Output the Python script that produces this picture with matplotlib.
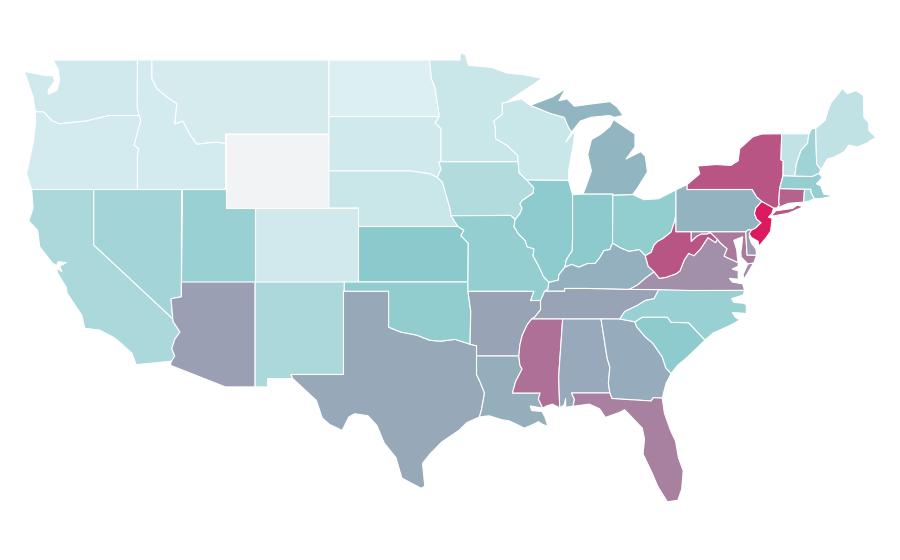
import matplotlib
matplotlib.use("Agg")
import matplotlib.pyplot as plt
from matplotlib.colors import LinearSegmentedColormap, Normalize
from matplotlib.patches import Polygon

# ---- values per state (read from the colour of each state; None = no data)
rate = dict(
    WA=7, OR=5, ID=5, MT=4, ND=0.5, SD=7, WY=None, NE=10, MN=10, WI=10, IA=21,
    CA=24, NV=28, UT=33, CO=6, NM=24, AZ=54.4, KS=40, OK=37, MO=35, IL=38, IN=39,
    OH=36, MI=46.5, KY=48.5, TN=53, AR=53, LA=49.5, MS=70.5, AL=51, GA=50, TX=51.3,
    FL=65, SC=38, NC=33, VA=60, WV=79.4, PA=47.5, NY=79.4, NJ=100, DE=55.8, MD=67,
    CT=74.7, RI=28, MA=35, VT=13, NH=30, ME=14,
)

# ---- colour scale
scale_stops = [0, 40, 54.4, 79.4, 100]
scale_colors = ["#ddeff2", "#8ac9cc", "#9b9fb4", "#b95685", "#dc1a60"]
no_data_color = "#f2f3f5"

# ---- shared state borders (lon, lat)
MN_WI = [(-92.02,46.71),(-92.29,46.66),(-92.29,46.07),(-92.87,45.7),(-92.76,45.3),(-92.75,44.75),(-92.0,44.4),(-91.25,43.85),(-91.22,43.5)]
IA_WI = [(-91.22,43.5),(-91.15,42.9),(-90.64,42.51)]
IA_IL = [(-90.64,42.51),(-90.16,42.1),(-90.2,41.8),(-90.95,41.4),(-91.1,41.2),(-90.95,41.0),(-91.1,40.7),(-91.42,40.38)]
MO_IL = [(-91.42,40.38),(-91.5,40.0),(-91.2,39.6),(-90.75,39.25),(-90.6,38.9),(-90.15,38.8),(-90.2,38.4),(-89.85,37.9),(-89.5,37.3),(-89.13,36.98)]
KY_MO = [(-89.13,36.98),(-89.2,36.6),(-89.42,36.5)]
TN_AR = [(-89.7,36.0),(-89.7,35.5),(-90.1,35.1),(-90.3,35.0)]
MS_AR = [(-90.3,35.0),(-90.6,34.7),(-90.95,34.1),(-91.1,33.6),(-91.17,33.0)]
MS_LA = [(-91.17,33.0),(-91.1,32.5),(-90.95,32.3),(-91.4,31.6),(-91.6,31.0),(-89.73,31.0),(-89.85,30.67),(-89.55,30.18)]
IL_KY = [(-89.13,36.98),(-88.5,37.1),(-88.45,37.4),(-88.05,37.8)]
IN_KY = [(-88.05,37.8),(-87.6,37.95),(-87.1,37.8),(-86.5,38.0),(-86.0,38.0),(-85.7,38.3),(-85.4,38.7),(-85.0,38.75),(-84.82,39.1)]
OH_KY = [(-84.82,39.1),(-84.3,38.85),(-83.7,38.65),(-83.0,38.75),(-82.6,38.42)]
OH_WV = [(-82.6,38.42),(-82.2,38.6),(-82.0,39.0),(-81.75,39.2),(-81.4,39.35),(-80.85,39.7),(-80.6,40.3),(-80.52,40.64)]
IL_IN = [(-88.05,37.8),(-87.95,38.2),(-87.55,38.7),(-87.53,39.35),(-87.53,41.72)]
KY_TN = [(-89.42,36.5),(-88.07,36.5),(-88.07,36.65),(-86.5,36.65),(-84.0,36.6),(-83.68,36.6)]
KY_VA = [(-83.68,36.6),(-83.1,36.85),(-82.6,37.2),(-82.0,37.55)]
KY_WV = [(-82.0,37.55),(-82.4,37.85),(-82.6,38.42)]
VA_WV = [(-82.0,37.55),(-81.65,37.2),(-81.2,37.25),(-80.5,37.45),(-80.25,37.6),(-79.95,38.2),(-79.65,38.55),(-79.3,38.42),(-78.87,38.77),(-78.35,39.4),(-77.83,39.13),(-77.72,39.32)]
WV_MD = [(-77.72,39.32),(-78.2,39.68),(-78.4,39.6),(-78.8,39.6),(-79.1,39.48),(-79.48,39.2),(-79.48,39.72)]
PA_NJ = [(-75.41,39.8),(-75.15,39.9),(-74.75,40.2),(-75.05,40.4),(-75.2,40.7),(-75.1,41.0),(-74.7,41.36)]
PA_DE = [(-75.79,39.72),(-75.6,39.84),(-75.41,39.8)]
POTOMAC = [(-76.3,38.05),(-77.0,38.3),(-77.25,38.4),(-77.05,38.8),(-77.5,39.1),(-77.72,39.32)]
NC_TN = [(-81.68,36.59),(-82.0,36.1),(-82.6,36.0),(-83.1,35.75),(-84.0,35.4),(-84.32,35.0)]
NC_SC = [(-83.3,34.85),(-82.8,35.1),(-81.1,35.1),(-80.85,34.82),(-79.67,34.8),(-78.55,33.86)]
GA_SC = [(-80.85,32.05),(-81.2,32.35),(-81.45,32.95),(-82.1,33.7),(-82.6,34.03),(-83.2,34.6),(-83.3,34.85)]
GA_FL = [(-81.45,30.72),(-82.05,30.75),(-82.2,30.57),(-84.86,30.7),(-85.0,31.0)]
GA_AL = [(-85.0,31.0),(-85.1,31.55),(-85.0,32.4),(-85.18,32.87),(-85.6,35.0)]
TX_OK = [(-100.0,34.56),(-99.2,34.3),(-98.1,34.13),(-97.2,33.85),(-96.5,33.8),(-95.5,33.9),(-94.48,33.64)]
TX_LA = [(-94.04,32.0),(-93.8,31.6),(-93.5,31.0),(-93.7,30.1),(-93.85,29.7)]
AZ_CA = [(-114.63,35.0),(-114.6,34.85),(-114.15,34.3),(-114.5,33.9),(-114.7,33.4),(-114.5,33.0),(-114.72,32.72)]
OR_WA = [(-116.92,46.0),(-118.98,46.0),(-119.3,45.93),(-120.5,45.7),(-121.2,45.65),(-122.3,45.55),(-122.8,45.7),(-123.4,46.2),(-123.95,46.2)]
ID_OR = [(-117.03,42.0),(-117.03,43.8),(-116.95,44.2),(-117.25,44.4),(-116.8,45.75),(-116.92,46.0)]
ID_MT = [(-116.05,49.0),(-116.05,48.0),(-115.7,47.45),(-114.95,46.95),(-114.35,46.65),(-114.5,45.55),(-113.95,45.7),(-113.45,44.95),(-113.0,44.45),(-112.0,44.55),(-111.5,44.55),(-111.05,44.48)]
SD_MN = [(-96.56,45.94),(-96.85,45.6),(-96.45,45.3),(-96.45,43.5)]
ND_MN = [(-97.23,49.0),(-97.1,48.0),(-96.85,47.5),(-96.56,45.94)]
NE_IA = [(-96.7,42.65),(-96.35,42.4),(-96.1,41.7),(-95.85,41.0),(-95.77,40.58)]
SD_NE = [(-104.05,43.0),(-98.5,43.0),(-97.2,42.85),(-96.7,42.65)]
KS_MO = [(-95.3,40.0),(-94.9,39.8),(-95.1,39.5),(-94.6,39.1),(-94.62,37.0)]
AL_MS = [(-88.4,30.2),(-88.47,31.9),(-88.2,35.0)]
WI_MI = [(-90.4,46.55),(-89.0,46.1),(-88.1,45.9),(-87.8,45.35),(-87.6,45.1)]
NY_CT = [(-73.66,41.0),(-73.5,41.2),(-73.55,41.3),(-73.49,42.05)]
NY_VT = [(-73.26,42.75),(-73.25,43.55),(-73.4,43.6),(-73.35,45.01)]
VT_NH = [(-71.5,45.01),(-71.6,44.5),(-72.05,44.1),(-72.35,43.4),(-72.46,42.73)]
NH_MA = [(-70.82,42.87),(-71.3,42.7),(-72.46,42.73)]
NH_ME = [(-71.05,45.3),(-70.98,43.4),(-70.7,43.07)]
MA_RI = [(-71.8,42.02),(-71.38,42.02),(-71.33,41.78),(-71.12,41.5)]
CHESAPEAKE_MD = [(-75.65,37.98),(-76.1,38.35),(-76.12,38.6),(-76.05,39.0),(-76.0,39.45),(-76.6,39.25),(-76.4,38.75),(-76.35,38.3),(-76.3,38.05)]

# ---- state outlines (lon, lat); a state may have several parts
outlines = {
    "WA": [[(-124.7,48.38),(-123.2,48.15),(-122.75,48.15),(-122.65,47.85),(-123.1,47.35),(-123.05,47.15),(-122.5,47.35),(-122.3,47.9),(-122.4,48.5),(-122.75,49.0),(-117.03,49.0),(-117.04,46.42)] + OR_WA + [(-124.05,46.7),(-124.1,47.0),(-124.4,47.7)]],
    "OR": [[(-124.2,42.0),(-120.0,42.0)] + ID_OR + OR_WA[1:] + [(-123.95,45.5),(-124.1,44.5),(-124.55,42.85)]],
    "ID": [[(-117.03,49.0)] + ID_MT + [(-111.05,42.0),(-114.04,42.0)] + ID_OR + [(-117.04,46.42)]],
    "MT": [[(-104.05,49.0),(-104.05,45.0),(-111.05,45.0)] + ID_MT[::-1]],
    "WY": [[(-111.05,45.0),(-104.05,45.0),(-104.05,41.0),(-111.05,41.0)]],
    "ND": [[(-104.05,49.0)] + ND_MN + [(-104.05,45.94)]],
    "SD": [[(-104.05,45.94)] + SD_MN + [(-96.6,43.5),(-96.45,43.1)] + SD_NE[::-1]],
    "NE": [SD_NE + NE_IA[1:] + [(-95.3,40.0),(-102.05,40.0),(-102.05,41.0),(-104.05,41.0)]],
    "KS": [[(-102.05,40.0)] + KS_MO + [(-102.05,37.0)]],
    "CO": [[(-109.05,41.0),(-102.05,41.0),(-102.05,37.0),(-109.05,37.0)]],
    "UT": [[(-114.04,42.0),(-111.05,42.0),(-111.05,41.0),(-109.05,41.0),(-109.05,37.0),(-114.05,37.0)]],
    "NV": [[(-120.0,42.0),(-114.04,42.0),(-114.05,36.2),(-114.75,36.1),(-114.63,35.0),(-120.0,39.0)]],
    "CA": [[(-124.2,42.0),(-120.0,42.0),(-120.0,39.0)] + AZ_CA + [(-117.12,32.53),(-117.4,33.15),(-118.45,33.9),(-118.7,34.03),(-119.6,34.4),(-120.6,34.5),(-120.8,35.2),(-121.8,36.4),(-121.85,36.7),(-122.45,37.5),(-122.5,37.78),(-122.15,37.55),(-122.3,37.85),(-121.85,38.05),(-122.4,38.1),(-122.5,37.88),(-122.8,38.03),(-123.65,38.9),(-123.8,39.8),(-124.4,40.3),(-124.1,41.0)]],
    "AZ": [[(-114.05,37.0),(-109.05,37.0),(-109.05,31.33),(-111.07,31.33),(-114.8,32.5)] + AZ_CA[::-1] + [(-114.75,36.1),(-114.05,36.2)]],
    "NM": [[(-109.05,37.0),(-103.0,37.0),(-103.06,32.0),(-106.62,32.0),(-106.5,31.78),(-108.2,31.78),(-108.2,31.33),(-109.05,31.33)]],
    "TX": [[(-103.06,36.5),(-100.0,36.5)] + TX_OK + [(-94.04,33.55)] + TX_LA + [(-94.7,29.4),(-95.2,29.0),(-96.4,28.35),(-97.2,27.7),(-97.7,27.2),(-97.55,25.96),(-97.8,25.85),(-99.1,26.4),(-99.5,27.5),(-100.3,28.3),(-100.8,29.25),(-101.4,29.77),(-102.3,29.88),(-102.7,29.7),(-103.15,28.98),(-104.0,29.3),(-104.5,29.65),(-104.9,30.6),(-106.5,31.78),(-106.62,32.0),(-103.06,32.0)]],
    "OK": [[(-103.0,37.0),(-94.62,37.0),(-94.62,36.5),(-94.43,35.4)] + TX_OK[::-1] + [(-100.0,36.5),(-103.0,36.5)]],
    "AR": [[(-94.62,36.5),(-90.15,36.5),(-90.37,36.0)] + TN_AR + MS_AR + [(-94.04,33.0),(-94.04,33.55),(-94.48,33.64),(-94.43,35.4)]],
    "LA": [[(-94.04,33.0)] + MS_LA + [(-90.4,30.3),(-90.3,30.05),(-89.6,30.0),(-89.4,29.7),(-89.2,29.2),(-89.55,29.3),(-89.85,29.45),(-90.2,29.3),(-90.8,29.1),(-91.3,29.3),(-91.85,29.5),(-92.3,29.55),(-93.2,29.77)] + TX_LA[::-1]],
    "MN": [[(-97.23,49.0),(-95.15,49.0),(-95.15,49.38),(-94.8,49.3),(-94.6,48.72),(-93.0,48.6),(-92.0,48.3),(-90.8,48.2),(-89.6,48.0),(-90.9,47.3)] + MN_WI + [(-96.45,43.5)] + SD_MN[::-1][1:] + ND_MN[::-1][1:]],
    "IA": [[(-96.45,43.5)] + IA_WI + IA_IL[1:] + [(-91.73,40.6)] + NE_IA[::-1] + [(-96.45,43.1),(-96.6,43.5)]],
    "MO": [[(-95.77,40.58),(-91.73,40.6)] + MO_IL + KY_MO[1:] + [(-89.7,36.0),(-90.37,36.0),(-90.15,36.5),(-94.62,36.5)] + KS_MO[::-1]],
    "WI": [[(-92.02,46.71),(-91.0,46.9)] + WI_MI + [(-88.0,44.55),(-87.35,45.2),(-87.5,44.3),(-87.8,43.0),(-87.8,42.49)] + IA_WI[::-1] + MN_WI[::-1][1:]],
    "IL": [[(-90.64,42.51),(-87.8,42.49)] + IL_IN[::-1] + IL_KY[::-1][1:] + MO_IL[::-1][1:] + IA_IL[::-1][1:]],
    "IN": [[(-87.53,41.72),(-86.82,41.76),(-84.8,41.76)] + IN_KY[::-1] + IL_IN[1:4]],
    "OH": [[(-84.82,39.1),(-84.8,41.7),(-83.45,41.73),(-82.7,41.45),(-81.7,41.5),(-80.52,41.98)] + OH_WV[::-1] + OH_KY[::-1][1:]],
    "MI": [[(-86.82,41.76),(-84.8,41.76),(-84.8,41.7),(-83.45,41.73),(-83.15,42.05),(-82.45,42.95),(-82.6,43.8),(-82.9,44.05),(-83.9,43.65),(-83.3,44.3),(-83.3,45.0),(-84.75,45.78),(-85.0,45.4),(-85.6,45.0),(-86.25,44.7),(-86.5,43.9),(-86.25,43.0),(-86.6,42.2)],
           WI_MI + [(-87.0,45.7),(-86.3,45.9),(-85.0,46.0),(-84.7,45.9),(-84.1,46.0),(-84.5,46.45),(-85.0,46.75),(-86.0,46.65),(-87.4,46.5),(-87.9,46.9),(-88.45,46.8),(-88.0,47.45),(-88.9,47.0)]],
    "KY": [KY_MO[::-1] + IL_KY[1:] + IN_KY[1:] + OH_KY[1:] + KY_WV[::-1][1:] + KY_VA[::-1][1:] + KY_TN[::-1][1:]],
    "TN": [[(-90.3,35.0),(-88.2,35.0),(-85.6,35.0),(-84.32,35.0)] + NC_TN[::-1][1:] + KY_TN[::-1] + [(-89.7,36.0)] + TN_AR[1:3]],
    "MS": [MS_AR + MS_LA[1:] + [(-89.3,30.3),(-88.9,30.4)] + AL_MS],
    "AL": [[(-88.2,35.0)] + GA_AL[::-1] + [(-87.6,31.0),(-87.4,30.65),(-87.5,30.28),(-88.0,30.23),(-88.0,30.7),(-88.1,30.35),(-88.4,30.2),(-88.47,31.9)]],
    "GA": [[(-85.6,35.0),(-84.32,35.0)] + GA_SC[::-1] + [(-81.2,31.5)] + GA_FL + GA_AL[1:]],
    "FL": [[(-87.6,31.0),(-85.0,31.0)] + GA_FL[::-1][1:] + [(-81.3,29.9),(-80.9,29.0),(-80.55,28.4),(-80.35,27.5),(-80.03,26.8),(-80.13,25.8),(-80.4,25.2),(-81.1,25.12),(-81.75,25.95),(-82.15,26.7),(-82.75,27.7),(-82.65,28.5),(-82.8,29.1),(-83.4,29.6),(-84.0,30.1),(-84.35,29.95),(-85.3,29.68),(-85.7,30.15),(-86.4,30.4),(-87.5,30.28),(-87.4,30.65)]],
    "SC": [NC_SC + [(-79.1,33.43),(-79.8,32.9),(-80.4,32.5)] + GA_SC[:-1]],
    "NC": [[(-84.32,35.0)] + NC_SC + [(-78.0,34.24),(-77.0,34.6),(-76.5,34.8),(-76.2,34.95),(-76.5,35.1),(-76.7,35.35),(-75.75,35.3),(-75.75,35.75),(-75.9,35.85),(-76.6,35.9),(-76.75,36.1),(-75.95,36.3),(-75.87,36.55)] + NC_TN],
    "VA": [[(-83.68,36.6),(-81.68,36.59),(-79.5,36.54),(-75.87,36.55),(-76.0,36.9),(-76.7,37.0),(-76.9,37.2),(-76.3,37.15),(-76.3,37.6),(-76.7,37.7),(-76.3,37.85)] + POTOMAC + VA_WV[::-1][1:] + KY_VA[::-1][1:],
           [(-75.65,37.98),(-75.25,38.03),(-75.9,37.15),(-75.97,37.4)]],
    "WV": [OH_WV + [(-80.52,39.72)] + WV_MD[::-1] + VA_WV[::-1][1:] + KY_WV[1:2]],
    "MD": [[(-79.48,39.72),(-75.79,39.72),(-75.7,38.46),(-75.05,38.45),(-75.25,38.03)] + CHESAPEAKE_MD + POTOMAC[1:] + WV_MD[1:-1]],
    "DE": [PA_DE + [(-75.55,39.45),(-75.4,39.1),(-75.1,38.8),(-75.05,38.45),(-75.7,38.46)]],
    "PA": [[(-80.52,41.98),(-79.76,42.27),(-79.76,42.0),(-75.35,42.0),(-75.05,41.6)] + PA_NJ[::-1] + PA_DE[::-1][1:] + [(-80.52,39.72)]],
    "NJ": [[(-74.7,41.36),(-73.9,41.0),(-74.02,40.7),(-74.25,40.5),(-74.0,40.45),(-74.1,39.75),(-74.4,39.4),(-74.9,38.93),(-74.95,39.2),(-75.4,39.4),(-75.55,39.6)] + PA_NJ[:-1]],
    "NY": [[(-79.76,42.27),(-79.76,42.0),(-75.35,42.0),(-75.05,41.6),(-74.7,41.36),(-73.9,41.0)] + NY_CT + NY_VT + [(-74.7,45.0),(-75.3,44.85),(-76.2,44.2),(-76.3,43.55),(-76.8,43.3),(-77.8,43.35),(-79.05,43.27),(-78.9,42.85)],
           [(-74.03,40.6),(-73.75,40.85),(-72.6,40.98),(-72.3,41.15),(-71.87,41.07),(-72.9,40.72),(-73.9,40.57)]],
    "CT": [[(-73.49,42.05),(-71.8,42.02),(-71.86,41.32),(-72.9,41.25)] + NY_CT[:3]],
    "RI": [MA_RI + [(-71.5,41.37),(-71.86,41.32)]],
    "MA": [[(-73.49,42.05)] + MA_RI + [(-70.65,41.52),(-70.0,41.62),(-69.95,41.68),(-70.5,41.75),(-70.7,42.2),(-71.0,42.3),(-70.6,42.65)] + NH_MA + [(-73.26,42.75)]],
    "VT": [[(-73.35,45.01)] + VT_NH + NY_VT[:3]],
    "NH": [VT_NH[:1] + [(-71.3,45.3)] + NH_ME + NH_MA + VT_NH[::-1][1:-1]],
    "ME": [NH_ME[:1] + [(-70.4,45.75),(-70.25,46.2),(-70.0,46.7),(-69.23,47.46),(-68.9,47.18),(-68.3,47.35),(-67.8,47.07),(-67.78,45.9),(-67.45,45.6),(-67.45,45.2),(-66.97,44.82),(-67.6,44.5),(-68.2,44.3),(-68.8,44.4),(-69.1,44.05),(-69.8,43.75),(-70.25,43.65)] + NH_ME[::-1][:2]],
}

cmap = LinearSegmentedColormap.from_list(
    "rate", [(s / scale_stops[-1], c) for s, c in zip(scale_stops, scale_colors)])
norm = Normalize(scale_stops[0], scale_stops[-1])

fig = plt.figure(figsize=(9, 5.6), dpi=100)
ax = fig.add_axes([0, 0, 1, 1])
for state, parts in outlines.items():
    value = rate[state]
    face = no_data_color if value is None else cmap(norm(value))
    for part in parts:
        ax.add_patch(Polygon(part, closed=True, facecolor=face,
                             edgecolor="white", linewidth=0.8, joinstyle="round"))
ax.set_xlim(-126.347, -65.33)
ax.set_ylim(21.973, 52.243)
ax.axis("off")
fig.savefig("out.png", dpi=100, facecolor="white")
